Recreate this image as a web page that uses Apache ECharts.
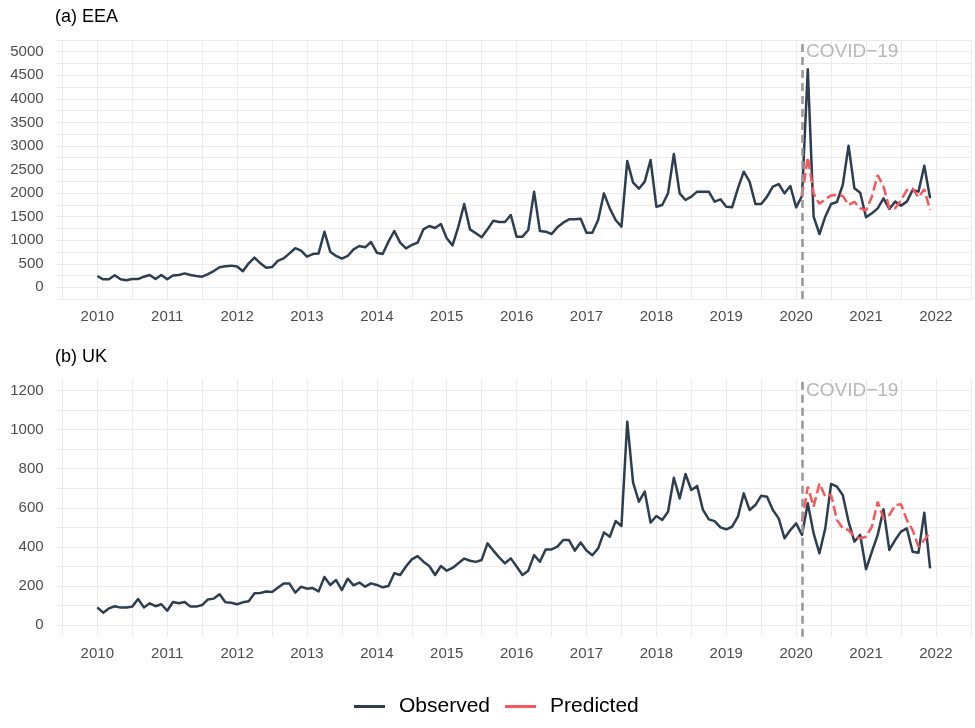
<!DOCTYPE html>
<html>
<head>
<meta charset="utf-8">
<script src="https://cdn.jsdelivr.net/npm/echarts@6/dist/echarts.min.js"></script>
<style>
html,body{margin:0;padding:0;background:#ffffff;}
#chart{width:975px;height:728px;}
</style>
</head>
<body>
<div id="chart"></div>
<script>
// ---------- data (monthly, Jan 2010 .. Dec 2021) ----------
const startYear = 2010;
const yearTicks = [2010,2011,2012,2013,2014,2015,2016,2017,2018,2019,2020,2021,2022];
const eeaTickLabels = [0,500,1000,1500,2000,2500,3000,3500,4000,4500,5000];
const ukTickLabels = [0,200,400,600,800,1000,1200];
const panelTitles = ['(a) EEA', '(b) UK'];
const seriesNames = ['Observed', 'Predicted'];
const covidLabel = 'COVID\u221219';
const covidDate = 2020 + 1/12;
const eeaLabelY = 5000;
const ukLabelY = 1200;
const predictedStartIndex = 121; // Feb 2020

const eeaObserved = [
  240,170,170,255,170,150,175,175,225,260,175,260,
  170,250,260,295,260,240,225,280,345,425,445,460,
  440,340,510,630,510,415,430,560,615,720,830,780,
  650,705,720,1180,757,665,608,665,806,877,849,962,
  735,707,969,1195,948,827,898,948,1230,1301,1259,1344,
  1040,891,1287,1768,1230,1146,1061,1230,1414,1386,1386,1535,
  1075,1075,1216,2030,1195,1181,1131,1273,1372,1443,1443,1457,
  1160,1160,1428,1994,1676,1428,1287,2680,2221,2093,2242,2702,
  1711,1747,1994,2829,1994,1853,1924,2030,2030,2030,1818,1867,
  1711,1697,2100,2454,2242,1768,1768,1924,2136,2192,1994,2150,
  1697,1938,4625,1499,1131,1499,1768,1810,2171,3006,2100,2008,
  1485,1570,1676,1888,1662,1818,1733,1818,2065,2030,2581,1888
];
const eeaPredicted = [
  1924,2760,1990,1770,1870,1950,1960,1940,1750,1815,1680,
  1630,1924,2380,2140,1680,1680,1850,2060,2100,1910,2080,1640
];
const ukObserved = [
  90,63,85,96,89,89,94,133,90,111,96,106,
  73,118,111,118,94,94,102,131,135,157,116,114,
  106,116,121,162,164,171,169,191,212,212,166,196,
  186,189,172,246,205,230,179,237,203,217,196,213,
  205,193,200,265,256,299,336,353,324,302,256,302,
  278,292,316,340,329,323,333,418,381,346,316,341,
  299,256,278,358,324,387,387,401,435,435,381,422,
  381,357,392,474,452,532,507,1041,729,631,683,524,
  558,538,580,754,648,773,691,712,589,541,532,500,
  490,503,555,674,589,614,662,657,589,546,444,486,
  520,461,623,469,367,495,722,708,666,529,427,461,
  285,375,461,592,384,435,478,495,375,370,575,290
];
const ukPredicted = [
  529,708,606,725,657,666,538,495,486,452,444,
  452,503,631,546,563,614,618,538,486,401,435,473
];

// ---------- helpers ----------
function toPairs(values, offset) {
  return values.map((v, i) => [startYear + (i + offset) / 12, v]);
}
const FONT = 'Liberation Sans, Arial, sans-serif';
const obsColor = '#2C3E50';
const predColor = '#F8585B';
const gridColor = '#ebebeb';
const tickColor = '#4d4d4d';

const xMin = startYear - 0.05 * (143 / 12);
const xMax = startYear + 143 / 12 + 0.05 * (143 / 12);

function xAxisCfg(gi) {
  return {
    type: 'value', gridIndex: gi, min: xMin, max: xMax, splitNumber: 26,
    axisLine: {show: false}, axisTick: {show: false},
    axisLabel: {
      color: tickColor, fontSize: 15, fontFamily: FONT, margin: 10,
      formatter: function (v) {
        const r = Math.round(v);
        return (Math.abs(v - r) < 1e-6 && yearTicks.indexOf(r) >= 0) ? String(r) : '';
      }
    },
    splitLine: {show: true, showMinLine: false, showMaxLine: false, lineStyle: {color: gridColor, width: 1}}
  };
}
function yLabelFormatter(list) {
  return function (v) {
    const r = Math.round(v);
    return (Math.abs(v - r) < 1e-6 && list.indexOf(r) >= 0) ? String(r) : '';
  };
}

const option = {
  backgroundColor: '#ffffff',
  animation: false,
  title: [
    {text: panelTitles[0], left: 55, top: 8, padding: 0,
     textStyle: {fontSize: 18, fontWeight: 'normal', color: '#000', fontFamily: FONT}},
    {text: panelTitles[1], left: 55, top: 348, padding: 0,
     textStyle: {fontSize: 18, fontWeight: 'normal', color: '#000', fontFamily: FONT}}
  ],
  legend: {
    left: 354, top: 696, padding: 0, itemWidth: 31, itemHeight: 3, itemGap: 15,
    icon: 'rect',
    textStyle: {fontSize: 21, color: '#000', fontFamily: FONT, padding: [0, 0, 0, 9]},
    data: [
      {name: seriesNames[0], icon: 'rect', itemStyle: {color: obsColor}},
      {name: seriesNames[1], icon: 'rect', itemStyle: {color: predColor}}
    ]
  },
  grid: [
    {left: 55.65, top: 39.9, width: 916.1, height: 259.2},
    {left: 55.65, top: 378.9, width: 916.1, height: 257.8}
  ],
  xAxis: [xAxisCfg(0), xAxisCfg(1)],
  yAxis: [
    {type: 'value', gridIndex: 0, min: -250, max: 5250, interval: 250,
     axisLine: {show: false}, axisTick: {show: false},
     axisLabel: {color: tickColor, fontSize: 15, fontFamily: FONT, margin: 12, formatter: yLabelFormatter(eeaTickLabels)},
     splitLine: {show: true, showMinLine: true, showMaxLine: true, lineStyle: {color: gridColor, width: 1}}},
    {type: 'value', gridIndex: 1, min: -60, max: 1260, splitNumber: 13,
     axisLine: {show: false}, axisTick: {show: false},
     axisLabel: {color: tickColor, fontSize: 15, fontFamily: FONT, margin: 12, formatter: yLabelFormatter(ukTickLabels)},
     splitLine: {show: true, showMinLine: false, showMaxLine: false, lineStyle: {color: gridColor, width: 1}}}
  ],
  series: []
};

function panelSeries(gi, obs, pred, labelY) {
  return [
    {name: seriesNames[0], type: 'line', xAxisIndex: gi, yAxisIndex: gi,
     data: toPairs(obs, 0), symbol: 'none', showSymbol: false, silent: true, z: 3,
     itemStyle: {color: obsColor},
     lineStyle: {color: obsColor, width: 2.5, join: 'round'}},
    {name: seriesNames[1], type: 'line', xAxisIndex: gi, yAxisIndex: gi,
     data: toPairs(pred, predictedStartIndex), symbol: 'none', showSymbol: false, silent: true, z: 4,
     itemStyle: {color: predColor},
     lineStyle: {color: predColor, width: 2.5, type: [10, 4]}},
    {name: 'covid' + gi, type: 'scatter', xAxisIndex: gi, yAxisIndex: gi,
     data: [[covidDate, labelY]], symbolSize: 0, silent: true, z: 6,
     label: {show: true, position: 'right', distance: 4, formatter: covidLabel,
             color: '#a6a6a6', fontSize: 19, fontFamily: FONT},
     markLine: {silent: true, symbol: ['none', 'none'], label: {show: false},
                lineStyle: {color: '#9a9a9a', type: [8, 5], width: 2.6},
                data: [{xAxis: covidDate}], z: 5}}
  ];
}
option.series = option.series
  .concat(panelSeries(0, eeaObserved, eeaPredicted, eeaLabelY))
  .concat(panelSeries(1, ukObserved, ukPredicted, ukLabelY));

const chart = echarts.init(document.getElementById('chart'), null, {renderer: 'canvas'});
chart.setOption(option);
</script>
</body>
</html>
